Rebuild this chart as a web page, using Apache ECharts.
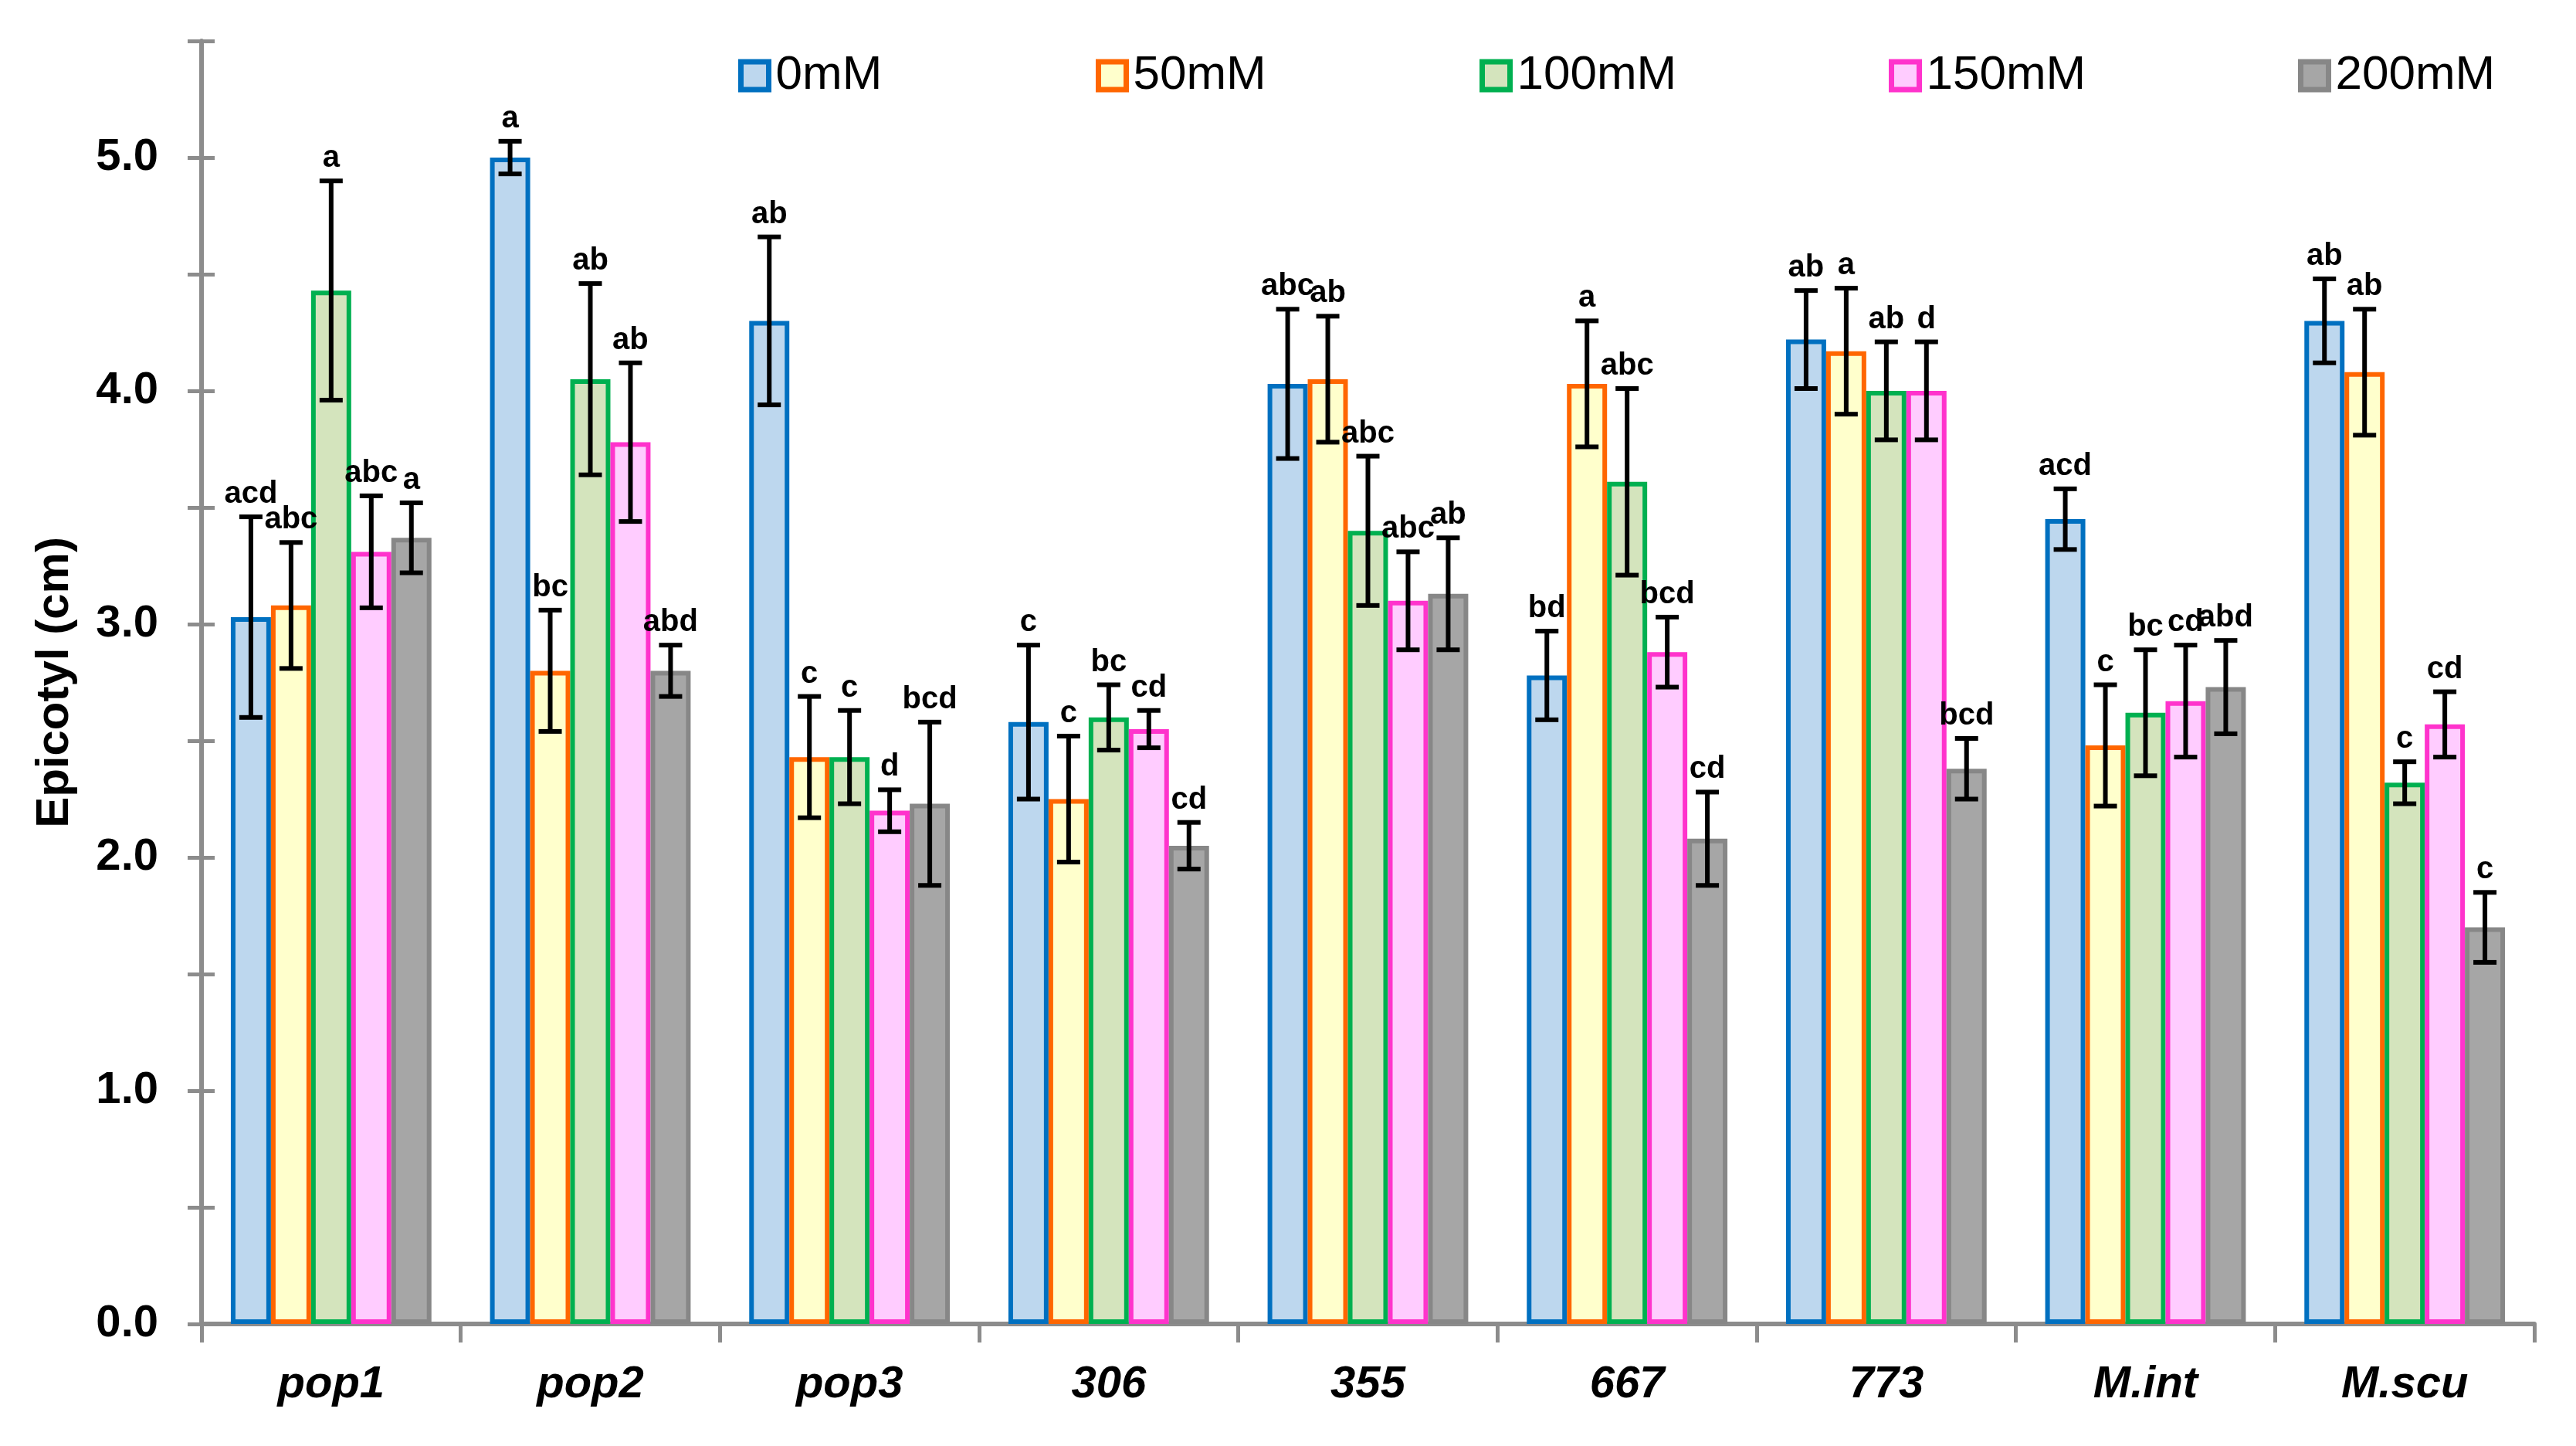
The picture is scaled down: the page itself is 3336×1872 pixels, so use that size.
<!DOCTYPE html>
<html><head><meta charset="utf-8">
<script src="https://cdn.jsdelivr.net/npm/echarts@6/dist/echarts.min.js"></script>
<style>html,body{margin:0;padding:0;background:#fff}#c{width:3336px;height:1872px}</style>
</head><body><div id="c"></div>
<script>
var categories = ['pop1','pop2','pop3','306','355','667','773','M.int','M.scu'];
var seriesNames = ['0mM','50mM','100mM','150mM','200mM'];
var v0   = [3.03, 5.00, 4.30, 2.58, 4.03, 2.78, 4.22, 3.45, 4.30];
var v50  = [3.08, 2.80, 2.43, 2.25, 4.05, 4.03, 4.17, 2.48, 4.08];
var v100 = [4.43, 4.05, 2.43, 2.60, 3.40, 3.61, 4.00, 2.62, 2.32];
var v150 = [3.31, 3.78, 2.20, 2.55, 3.10, 2.88, 4.00, 2.67, 2.57];
var v200 = [3.37, 2.80, 2.23, 2.05, 3.13, 2.08, 2.38, 2.73, 1.70];
var e0   = [0.43, 0.07, 0.36, 0.33, 0.32, 0.19, 0.21, 0.13, 0.18];
var e50  = [0.27, 0.26, 0.26, 0.27, 0.27, 0.27, 0.27, 0.26, 0.27];
var e100 = [0.47, 0.41, 0.20, 0.14, 0.32, 0.40, 0.21, 0.27, 0.09];
var e150 = [0.24, 0.34, 0.09, 0.08, 0.21, 0.15, 0.21, 0.24, 0.14];
var e200 = [0.15, 0.11, 0.35, 0.10, 0.24, 0.20, 0.13, 0.20, 0.15];
var l0   = ['acd','a','ab','c','abc','bd','ab','acd','ab'];
var l50  = ['abc','bc','c','c','ab','a','a','c','ab'];
var l100 = ['a','ab','c','bc','abc','abc','ab','bc','c'];
var l150 = ['abc','ab','d','cd','abc','bcd','d','cd','cd'];
var l200 = ['a','abd','bcd','cd','ab','cd','bcd','abd','c'];
var yTickValues = [0, 1, 2, 3, 4, 5];

var values = [v0, v50, v100, v150, v200];
var errors = [e0, e50, e100, e150, e200];
var letters = [l0, l50, l100, l150, l200];
var fills = ['#BDD7EE', '#FFFFCC', '#D4E4BD', '#FFCCFF', '#A6A6A6'];
var borders = ['#0070C0', '#FF6600', '#00B050', '#FF33CC', '#878787'];
var FONT = '"Liberation Sans", Arial, sans-serif';
var GAP = 0.226;
var N = 5;
var legendLefts = [951, 1414, 1911, 2441, 2971];

var chart = echarts.init(document.getElementById('c'), null, {renderer: 'canvas'});

function makeRender(si) {
  return function (params, api) {
    var cat = api.value(0), v = api.value(1), e = api.value(2);
    var bw = api.size([1, 0])[0] * (1 - GAP) / N;
    var x = api.coord([cat, v])[0] + (si - (N - 1) / 2) * bw;
    var yT = api.coord([cat, v + e])[1];
    var yB = api.coord([cat, v - e])[1];
    var cap = 15;
    var ls = {stroke: '#000', lineWidth: 6};
    return {
      type: 'group',
      children: [
        {type: 'line', shape: {x1: x, y1: yT, x2: x, y2: yB}, style: ls},
        {type: 'line', shape: {x1: x - cap, y1: yT, x2: x + cap, y2: yT}, style: ls},
        {type: 'line', shape: {x1: x - cap, y1: yB, x2: x + cap, y2: yB}, style: ls},
        {type: 'text', style: {text: letters[si][params.dataIndex], x: x, y: yT - 9,
          align: 'center', verticalAlign: 'bottom', fontSize: 40, fontWeight: 'bold',
          fontFamily: FONT, fill: '#000'}}
      ]
    };
  };
}

var series = [];
for (var i = 0; i < N; i++) {
  series.push({
    name: seriesNames[i], type: 'bar', data: values[i],
    barGap: '0%', barCategoryGap: (GAP * 100) + '%',
    itemStyle: {color: fills[i], borderColor: borders[i], borderWidth: 6},
    z: 2
  });
}
for (var j = 0; j < N; j++) {
  var d = [];
  for (var k = 0; k < categories.length; k++) d.push([k, values[j][k], errors[j][k]]);
  series.push({
    type: 'custom', renderItem: makeRender(j), data: d,
    encode: {x: 0, y: 1}, z: 5, clip: false, silent: true
  });
}

var legends = [];
for (var m = 0; m < N; m++) {
  legends.push({
    data: [{name: seriesNames[m], icon: 'rect'}], left: legendLefts[m], top: 62,
    itemWidth: 36, itemHeight: 36, itemGap: 0,
    itemStyle: {borderWidth: 7},
    textStyle: {fontSize: 62, fontFamily: FONT, color: '#000', padding: [0, 0, 0, 4]},
    selectedMode: false
  });
}

var option = {
  backgroundColor: '#fff',
  animation: false,
  legend: legends,
  grid: {left: 261, right: 54, top: 53, bottom: 158, containLabel: false},
  xAxis: {
    type: 'category', data: categories,
    axisLine: {lineStyle: {color: '#8c8c8c', width: 6}},
    axisTick: {show: true, length: 24, lineStyle: {color: '#8c8c8c', width: 5}},
    axisLabel: {fontSize: 58, fontWeight: 'bold', fontStyle: 'italic', fontFamily: FONT,
      color: '#000', margin: 50}
  },
  yAxis: [{
    type: 'value', min: 0, max: 5.5, interval: 0.5,
    name: 'Epicotyl (cm)', nameLocation: 'middle', nameGap: 160,
    nameTextStyle: {fontSize: 60, fontWeight: 'bold', fontFamily: FONT, color: '#000'},
    axisLine: {show: true, lineStyle: {color: '#8c8c8c', width: 6}},
    axisTick: {show: true, length: 18, lineStyle: {color: '#8c8c8c', width: 5}},
    axisLabel: {fontSize: 58, fontWeight: 'bold', fontFamily: FONT, color: '#000', margin: 56,
      formatter: function (val) { return yTickValues.indexOf(val) >= 0 ? val.toFixed(1) : ''; }},
    splitLine: {show: false}
  }, {
    type: 'value', min: 0, max: 5.5, interval: 0.5, position: 'left',
    axisLine: {show: false},
    axisTick: {show: true, inside: true, length: 17, lineStyle: {color: '#8c8c8c', width: 5}},
    axisLabel: {show: false}, splitLine: {show: false}
  }],
  series: series
};
chart.setOption(option);
</script></body></html>
